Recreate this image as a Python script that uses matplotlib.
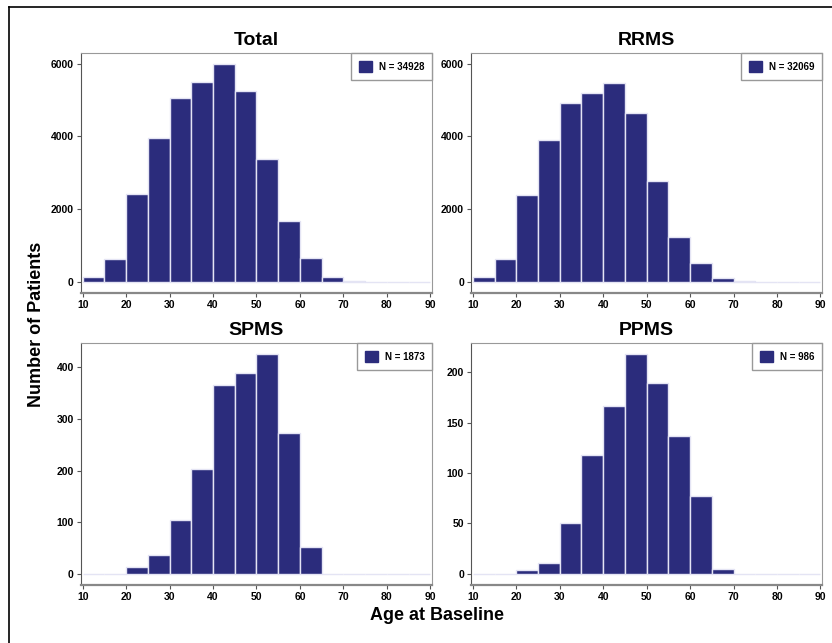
import matplotlib
matplotlib.use("Agg")
import matplotlib.pyplot as plt
from matplotlib.lines import Line2D
from matplotlib.patches import Patch
import numpy as np

plt.rcParams['font.family'] = ['Liberation Sans', 'DejaVu Sans']
plt.rcParams['font.weight'] = 'bold'

bin_edges = [10, 15, 20, 25, 30, 35, 40, 45, 50, 55, 60, 65, 70, 75, 80, 85, 90]

titles = ["Total", "RRMS", "SPMS", "PPMS"]
n_labels = ["N = 34928", "N = 32069", "N = 1873", "N = 986"]

total_counts = [140, 640, 2420, 3945, 5065, 5500, 5980, 5235, 3380, 1665, 645, 127, 36, 0, 0, 0]
rrms_counts = [136, 636, 2400, 3900, 4918, 5182, 5455, 4636, 2764, 1245, 509, 118, 27, 0, 0, 0]
spms_counts = [0, 0, 14, 36, 104, 203, 366, 388, 425, 273, 52, 0, 0, 0, 0, 0]
ppms_counts = [0, 0, 4, 11, 50, 118, 167, 218, 190, 137, 77, 5, 0, 0, 0, 0]

y_ticks = [
    [0, 2000, 4000, 6000],
    [0, 2000, 4000, 6000],
    [0, 100, 200, 300, 400],
    [0, 50, 100, 150, 200],
]
x_ticks = [10, 20, 30, 40, 50, 60, 70, 80, 90]

all_counts = [total_counts, rrms_counts, spms_counts, ppms_counts]
# the top row shares one y scale
scale_from = [0, 0, 2, 3]

bar_color = "#2B2C7C"
edge_color = "#E4E4F4"

W, H = 832, 643
fig = plt.figure(figsize=(W / 100, H / 100), dpi=100)

lefts = [0.097, 0.566, 0.097, 0.566]
bottoms = [0.5448, 0.5448, 0.0905, 0.0905]
widths = 0.4225
heights = [0.372, 0.372, 0.3755, 0.3755]

for i in range(4):
    ax = fig.add_axes([lefts[i], bottoms[i], widths, heights[i]])
    counts = np.array(all_counts[i])
    edges = np.array(bin_edges)
    ax.bar(edges[:-1], counts, width=np.diff(edges), align='edge',
           color=bar_color, edgecolor=edge_color, linewidth=1.0)
    m = np.max(all_counts[scale_from[i]])
    ax.set_ylim(-0.05 * m, 1.05 * m)
    ax.set_xlim(9.55, 90.45)
    ax.set_xticks(x_ticks)
    ax.set_yticks(y_ticks[i])
    ax.tick_params(axis='both', labelsize=7.5, length=3, width=0.8,
                   color='#555555', pad=2)
    for lab in ax.get_xticklabels() + ax.get_yticklabels():
        lab.set_fontweight('bold')
    ax.spines['left'].set_color('#555555')
    ax.spines['bottom'].set_color('#888888')
    ax.spines['bottom'].set_linewidth(1.6)
    ax.spines['top'].set_color('#999999')
    ax.spines['right'].set_color('#999999')
    ax.set_title(titles[i], fontsize=14, fontweight='bold', pad=6)
    handle = Patch(facecolor=bar_color, edgecolor=bar_color)
    leg = ax.legend([handle], [n_labels[i]], loc='upper right', borderaxespad=0,
                    fancybox=False, edgecolor='#999999', framealpha=1,
                    prop={'size': 7, 'weight': 'bold'},
                    handlelength=1.35, handleheight=1.35, borderpad=0.8,
                    handletextpad=0.7)
    leg.get_frame().set_linewidth(1.0)

fig.text(437 / W, 1 - 615 / H, "Age at Baseline", ha='center', va='center',
         fontsize=13, fontweight='bold')
fig.text(37 / W, 1 - 324 / H, "Number of Patients", ha='center', va='center',
         rotation=90, fontsize=13, fontweight='bold')

# outer frame (left and top edges visible)
fig.add_artist(Line2D([8.7 / W, 8.7 / W], [0, 1 - 7 / H], color='black', lw=1.2,
                      transform=fig.transFigure))
fig.add_artist(Line2D([8.7 / W, 1], [1 - 7 / H, 1 - 7 / H], color='black', lw=1.2,
                      transform=fig.transFigure))

fig.savefig("out.png", dpi=100, facecolor='white')
